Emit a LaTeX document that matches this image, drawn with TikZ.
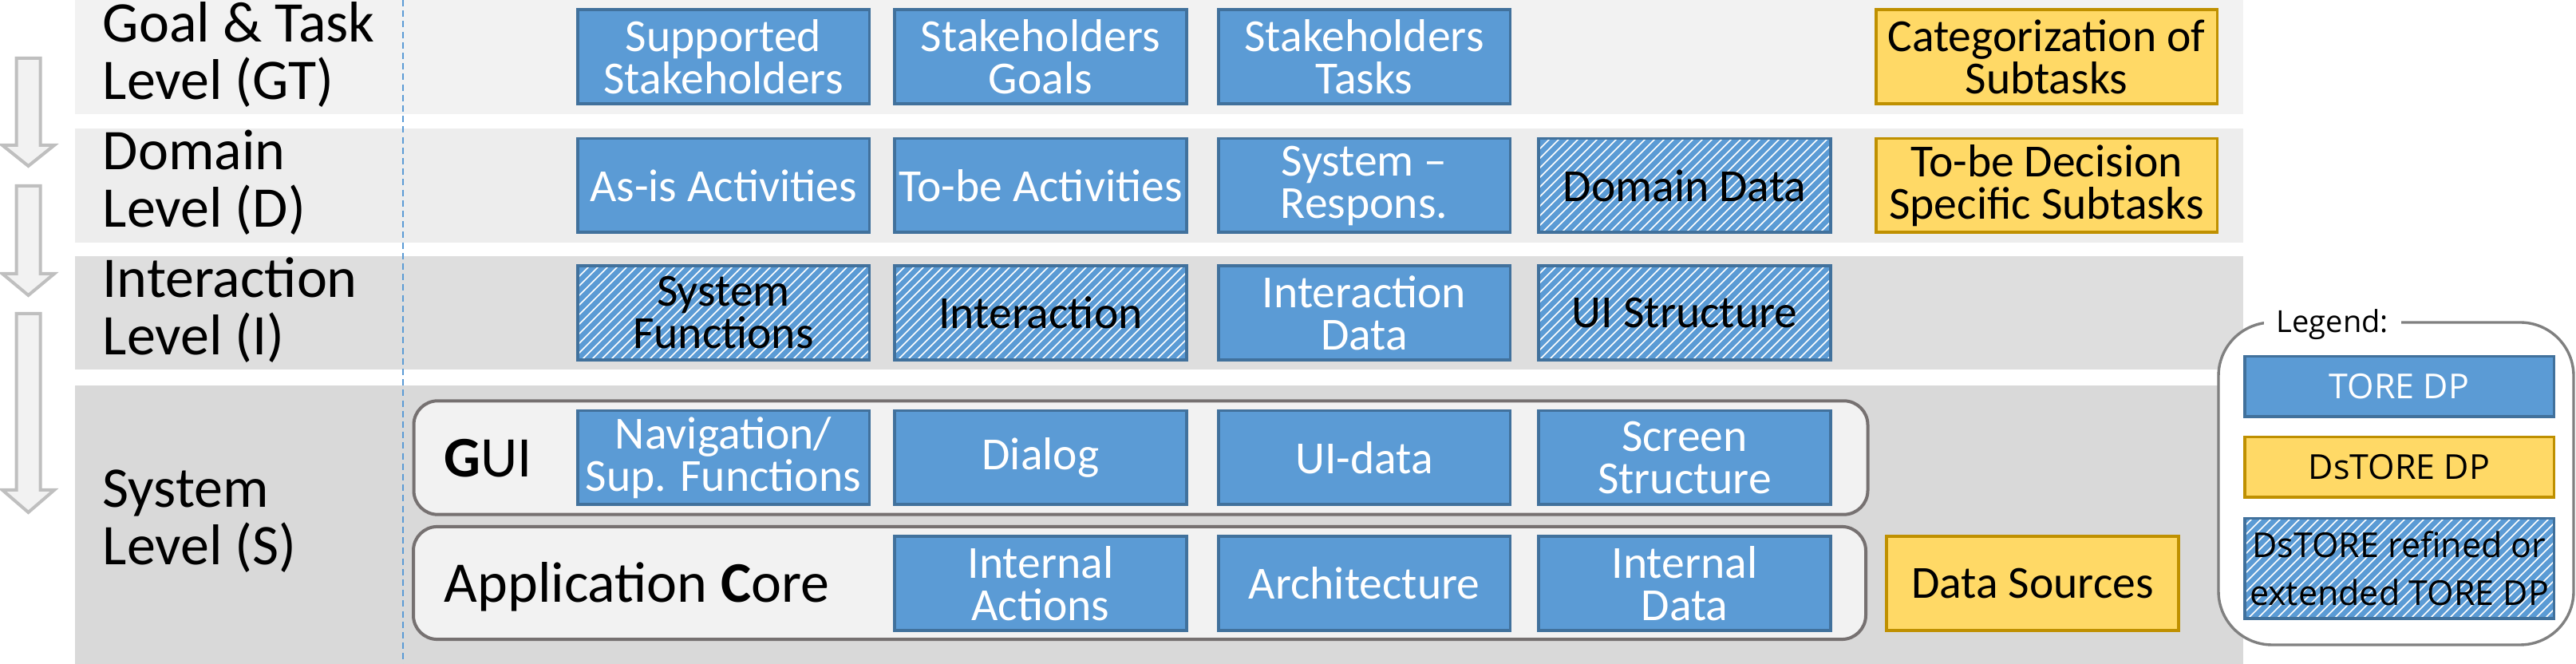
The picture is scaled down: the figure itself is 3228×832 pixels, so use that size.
\documentclass[tikz,border=0pt]{standalone}
\usepackage{fontspec}
\setmainfont{Carlito}
\newfontfamily\legendfont{Open Sans}
\usepackage{tikz}
\usetikzlibrary{patterns}
\usepackage{xcolor}

\definecolor{toreblue}{HTML}{5B9BD5}
\definecolor{toreborder}{HTML}{41719C}
\definecolor{dsyellow}{HTML}{FFD966}
\definecolor{dsborder}{HTML}{BF9000}
\definecolor{bandgt}{HTML}{F2F2F2}
\definecolor{bandd}{HTML}{EDEDED}
\definecolor{bandi}{HTML}{DEDEDE}
\definecolor{bands}{HTML}{D9D9D9}
\definecolor{framegray}{HTML}{767171}
\definecolor{legendgray}{HTML}{808080}
\definecolor{arrowgray}{HTML}{BFBFBF}

\begin{document}
\begin{tikzpicture}[x=0.25pt, y=-0.25pt,
    level/.style={anchor=base west, inner sep=0pt, align=left, font=\fontsize{18pt}{18pt}\selectfont},
    dp/.style={draw=toreborder, line width=0.9pt, minimum width=91.4pt, minimum height=29.4pt, inner sep=0pt, align=center, font=\fontsize{14.4pt}{13.25pt}\selectfont},
    tore/.style={dp, fill=toreblue, text=white},
    dstore/.style={dp, draw=dsborder, fill=dsyellow},
    refined/.style={dp, preaction={fill=toreblue}, pattern=north east lines, pattern color=white},
    layer/.style={draw=framegray, line width=1pt, fill=bandgt, rounded corners=7.5pt},
    legendfont/.style={font=\legendfont\fontsize{10.75pt}{15pt}\selectfont},
  ]
    \useasboundingbox (0,0) rectangle (3228,832);
    % level bands
    \fill[bandgt] (94,0) rectangle (2811,143);
    \fill[bandd] (94,161) rectangle (2811,304);
    \fill[bandi] (94,321) rectangle (2811,463);
    \fill[bands] (94,483) rectangle (2811,832);
    \draw[toreblue, line width=0.4pt, dash pattern=on 2pt off 1.3pt] (505,0) -- (505,832);
    % refinement arrows
    \foreach \ya/\yb/\yc in {73/182/208, 233/343/370, 393/614/642}
      \draw[arrowgray, line width=1pt, fill=bandgt] (20.5,\ya) -- (50.5,\ya) -- (50.5,\yb) -- (68,\yb)
        -- (35.5,\yc) -- (3,\yb) -- (20.5,\yb) -- cycle;
    % level names (base = last line)
    \node[level] (gt) at (128,125) {Goal \& Task\\Level (GT)};
    \node[level] (dom) at (128,285) {Domain\\Level (D)};
    \node[level] (inter) at (128,445) {Interaction\\Level (I)};
    \node[level] (sys) at (128,708) {System\\Level (S)};

    % system layers
    \node[layer, minimum width=455.5pt, minimum height=35.6pt] (guilayer) at (1429.5,573.5) {};
    \node[layer, minimum width=455pt, minimum height=35.3pt] (corelayer) at (1428,730.5) {};
    \node[level] (guilabel) at (556,598) {\textbf{G}UI};
    \node[level] (corelabel) at (556,755) {Application \textbf{C}ore};

    % goal & task level
    \node[tore] (sstake) at (906.5,71) {Supported\\Stakeholders};
    \node[tore] (sgoals) at (1304,71) {Stakeholders\\Goals};
    \node[tore] (stasks) at (1709.5,71) {Stakeholders\\Tasks};
    \node[dstore, minimum width=106.9pt] (subcat) at (2564.5,71) {Categorization of\\Subtasks};
    % domain level
    \node[tore] (asis) at (906.5,232.5) {As-is Activities};
    \node[tore] (tobe) at (1304,232.5) {To-be Activities};
    \node[tore] (sysresp) at (1709.5,232.5) {System --\\Respons.};
    \node[refined] (domdata) at (2111,232.5) {Domain Data};
    \node[dstore, minimum width=106.9pt] (decsub) at (2564.5,232.5) {To-be Decision\\Specific Subtasks};
    % interaction level
    \node[refined] (sysfunc) at (906.5,392) {System\\Functions};
    \node[refined] (interact) at (1304,392) {Interaction};
    \node[tore] (idata) at (1709.5,392) {Interaction\\Data};
    \node[refined] (uistruct) at (2111,392) {UI Structure};
    % system level
    \node[tore] (navfunc) at (906.5,573.5) {Navigation/\\Sup. Functions};
    \node[tore] (dialog) at (1304,573.5) {Dialog};
    \node[tore] (uidata) at (1709.5,573.5) {UI-data};
    \node[tore] (screen) at (2111,573.5) {Screen\\Structure};
    \node[tore] (intact) at (1304,731) {Internal\\Actions};
    \node[tore] (arch) at (1709.5,731) {Architecture};
    \node[tore] (intdata) at (2111,731) {Internal\\Data};
    \node[dstore] (datasrc) at (2547,731) {Data Sources};

    % legend
    \node[draw=legendgray, line width=0.85pt, fill=white, rounded corners=16.75pt,
      minimum width=111.25pt, minimum height=101pt] (legend) at (3002.5,606) {};
    \node[fill=white, inner xsep=4pt, inner ysep=1pt, anchor=base west,
      font=\legendfont\fontsize{9.5pt}{10pt}\selectfont] (legendtitle) at (2836,417) {Legend:};
    \node[tore, legendfont, minimum width=96.9pt, minimum height=18.9pt] (ltore) at (3006.5,484.5) {TORE DP};
    \node[dstore, legendfont, minimum width=96.9pt, minimum height=18.9pt] (ldstore) at (3006.5,585.5) {DsTORE DP};
    \node[refined, legendfont, minimum width=96.9pt, minimum height=31.4pt] (lrefined) at (3006.5,712.5) {DsTORE refined or\\extended TORE DP};
  \end{tikzpicture}
\end{document}
